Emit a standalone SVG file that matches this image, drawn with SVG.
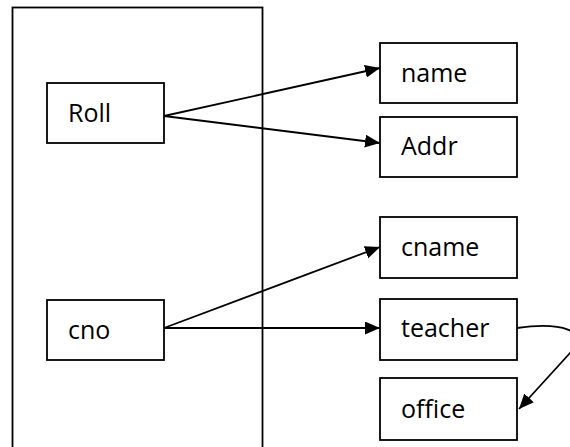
<svg xmlns="http://www.w3.org/2000/svg" width="570" height="447" viewBox="0 0 570 447">
<defs>
<style>
.box{fill:#fff;stroke:#000;stroke-width:1.8}
.lbl{font-family:"Open Sans","Liberation Sans",sans-serif;font-size:25px;fill:#000}
.con{fill:none;stroke:#000;stroke-width:1.8}
</style>
<marker id="ah" markerUnits="userSpaceOnUse" markerWidth="17" markerHeight="14" refX="15" refY="6.5" orient="auto">
<path d="M0,0 L15,6.5 L0,13 Z" fill="#000"/>
</marker>
</defs>
<g id="container"><rect x="12.5" y="7.5" width="250" height="460" fill="none" stroke="#000" stroke-width="1.8"/></g>
<g id="roll"><rect class="box" x="47" y="83" width="117" height="60"/><text class="lbl" x="68" y="122">Roll</text></g>
<g id="cno"><rect class="box" x="47" y="300" width="117" height="60"/><text class="lbl" x="68" y="339">cno</text></g>
<g id="name"><rect class="box" x="380" y="43" width="137" height="60"/><text class="lbl" x="401" y="82">name</text></g>
<g id="addr"><rect class="box" x="380" y="117" width="137" height="60"/><text class="lbl" x="401" y="155">Addr</text></g>
<g id="cname"><rect class="box" x="380" y="217" width="137" height="61"/><text class="lbl" x="401" y="256">cname</text></g>
<g id="teacher"><rect class="box" x="380" y="299" width="137" height="61"/><text class="lbl" x="401" y="337">teacher</text></g>
<g id="office"><rect class="box" x="380" y="378" width="137" height="62"/><text class="lbl" x="401" y="418">office</text></g>
<g id="connectors">
<line class="con" x1="164" y1="116" x2="380" y2="68" marker-end="url(#ah)"/>
<line class="con" x1="164" y1="116" x2="380" y2="143" marker-end="url(#ah)"/>
<line class="con" x1="164" y1="328" x2="380" y2="247" marker-end="url(#ah)"/>
<line class="con" x1="164" y1="328" x2="380" y2="328" marker-end="url(#ah)"/>
<path class="con" d="M517,328 C560,322 592,330 570,353 L519,409" marker-end="url(#ah)"/>
</g>
</svg>
